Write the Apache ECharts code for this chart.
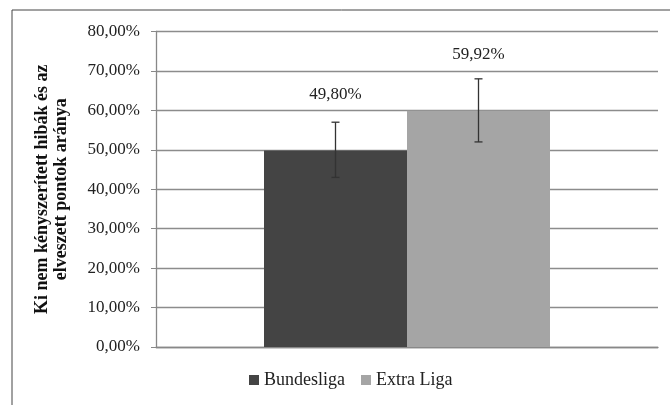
<!DOCTYPE html>
<html><head><meta charset="utf-8">
<script src="https://cdn.jsdelivr.net/npm/echarts@6/dist/echarts.min.js"></script>
<style>html,body{margin:0;padding:0;background:#fff}#c{width:670px;height:405px}</style>
</head><body><div id="c"></div>
<script>
const categories = [''];
const seriesNames = ['Bundesliga', 'Extra Liga'];
const values = [49.80, 59.92];
const errLow = [43.0, 52.0];
const errHigh = [57.0, 68.0];
const yTicks = [0, 10, 20, 30, 40, 50, 60, 70, 80];
const colors = ['#444444', '#a5a5a5'];

const fmt = v => v.toFixed(2).replace('.', ',') + '%';
const FONT = '"Liberation Serif", "Times New Roman", serif';
const BAR_W = 143;

const chart = echarts.init(document.getElementById('c'));
const series = seriesNames.map((n, i) => ({
  name: n, type: 'bar', data: [values[i]], barWidth: BAR_W, barGap: '0%',
  itemStyle: { color: colors[i] },
  label: { show: true, position: 'top', distance: 48, formatter: p => fmt(p.value),
    fontFamily: FONT, fontSize: 17, color: '#222' }
}));
series.push({
  type: 'custom', name: 'err', silent: true, z: 5,
  data: seriesNames.map((n, i) => [i, errLow[i], errHigh[i]]),
  renderItem: (params, api) => {
    const i = api.value(0);
    const lo = api.coord([0, api.value(1)]);
    const hi = api.coord([0, api.value(2)]);
    const x = lo[0] + (i === 0 ? -BAR_W / 2 : BAR_W / 2);
    const cap = 4;
    const st = { stroke: '#333', lineWidth: 1.3 };
    return { type: 'group', children: [
      { type: 'line', shape: { x1: x, y1: lo[1], x2: x, y2: hi[1] }, style: st },
      { type: 'line', shape: { x1: x - cap, y1: lo[1], x2: x + cap, y2: lo[1] }, style: st },
      { type: 'line', shape: { x1: x - cap, y1: hi[1], x2: x + cap, y2: hi[1] }, style: st }
    ]};
  }
});

chart.setOption({
  animation: false,
  backgroundColor: '#fff',
  graphic: [{ type: 'rect', shape: { x: 12, y: 10, width: 700, height: 500 },
    style: { fill: 'none', stroke: '#444', lineWidth: 1 }, silent: true }],
  grid: { left: 156, right: 12, top: 31.5, bottom: 58 },
  legend: {
    data: seriesNames, bottom: 11, left: 244, itemWidth: 10, itemHeight: 10, itemGap: 16, itemTextGap: 3,
    icon: 'rect', textStyle: { fontFamily: FONT, fontSize: 18, color: '#222' }
  },
  xAxis: { type: 'category', data: categories,
    axisLine: { lineStyle: { color: '#888', width: 1.3 } },
    axisTick: { show: false }, axisLabel: { show: false } },
  yAxis: {
    type: 'value', min: yTicks[0], max: yTicks[yTicks.length - 1], interval: 10,
    name: 'Ki nem kényszerített hibák és az\nelveszett pontok aránya',
    nameLocation: 'middle', nameGap: 85, nameRotate: 90,
    nameTextStyle: { fontFamily: FONT, fontSize: 18, fontWeight: 'bold', color: '#111', lineHeight: 19 },
    axisLine: { show: true, lineStyle: { color: '#888', width: 1.3 } },
    axisTick: { show: true, length: 5, lineStyle: { color: '#888' } },
    splitLine: { lineStyle: { color: '#8c8c8c', width: 1.3 } },
    axisLabel: { formatter: v => fmt(v), fontFamily: FONT, fontSize: 17, color: '#222', margin: 16 }
  },
  series: series
});
</script></body></html>
